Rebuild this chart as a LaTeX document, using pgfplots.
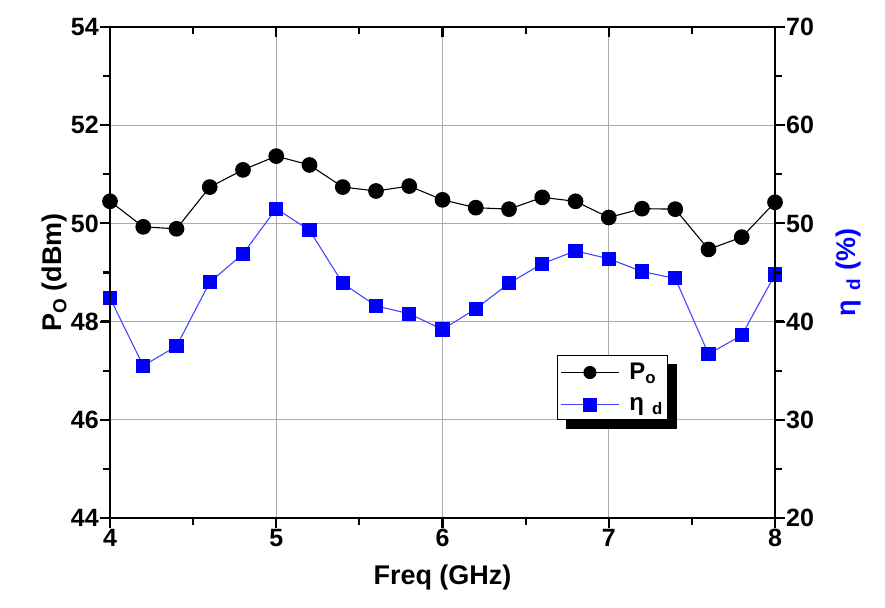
\documentclass[border=0pt]{standalone}
\usepackage{fontspec}
\setmainfont{Liberation Sans}
\usepackage{pgfplots}
\usepackage{pgfplotstable}
\pgfplotsset{compat=1.18}
\usetikzlibrary{calc}

\pgfplotstableread{
f po eta
4.0 50.45 42.4
4.2 49.93 35.5
4.4 49.89 37.5
4.6 50.74 44.0
4.8 51.09 46.9
5.0 51.37 51.5
5.2 51.19 49.3
5.4 50.74 43.9
5.6 50.66 41.6
5.8 50.76 40.8
6.0 50.48 39.2
6.2 50.32 41.3
6.4 50.29 43.9
6.6 50.53 45.9
6.8 50.45 47.2
7.0 50.12 46.4
7.2 50.30 45.1
7.4 50.29 44.4
7.6 49.47 36.7
7.8 49.72 38.6
8.0 50.43 44.8
}\datatable

\pgfplotsset{
  common/.style={
    scale only axis, width=665pt, height=491pt,
    at={(0pt,0pt)}, anchor=south west,
    xmin=4, xmax=8, xtick={4,5,6,7,8}, minor x tick num=1,
    tick label style={font=\fontsize{25}{28}\selectfont\bfseries, inner sep=2pt},
    /pgf/number format/assume math mode=true,
    label style={font=\fontsize{27}{30}\selectfont\bfseries},
  },
  lines/.style={
    axis line style={line width=2.8pt, black},
    major tick length=9pt, minor tick length=6pt,
    tick style={line width=2.2pt, black},
  }
}

\begin{document}
\begin{tikzpicture}
\path (-110pt,-89pt) rectangle (775pt,518pt);
\begin{axis}[common, name=main,
  axis x line*=bottom, axis y line*=left,
  ymin=44, ymax=54, ytick={44,46,48,50,52,54}, minor y tick num=1,
  grid=major, major grid style={gray!65, line width=0.9pt},
  xlabel={Freq (GHz)}, ylabel={P\textsubscript{O} (dBm)},
  xlabel style={yshift=-12pt}, ylabel style={yshift=-2pt},
  clip=false, lines, tick align=outside]
\addplot[black, line width=1.1pt, mark=*, mark size=7.3pt, mark options={solid, fill=black}]
  table[x=f, y=po]{\datatable};
\end{axis}
\begin{axis}[common,
  axis x line=none, axis y line*=right,
  ymin=20, ymax=70, ytick={20,30,40,50,60,70}, minor y tick num=1,
  ylabel={\textcolor{blue}{η\,\,\textsubscript{d} (\%)}},
  ylabel style={yshift=-16pt},
  clip=false, lines, tick align=outside,
  legend style={at={(0.672,0.332)}, anchor=north west, name=leg,
    draw=black, line width=1pt, fill=white,
    font=\fontsize{24}{26}\selectfont\bfseries,
    inner xsep=3pt, inner ysep=6pt, row sep=12pt,
    /tikz/every odd column/.append style={column sep=8pt}},
  legend cell align=left,
  legend image code/.code={
    \draw[#1, mark=none] (0pt,0pt) -- (58pt,0pt);
    \draw[#1, draw=none] plot coordinates {(29pt,0pt)};
  },
  ]
\addlegendimage{black, line width=1.1pt, mark=*, mark size=6pt, mark options={solid, fill=black}}
\addlegendentry{P\textsubscript{o}}
\addplot[draw={rgb,255:red,70;green,70;blue,255}, line width=1.1pt, mark=square*, mark size=6.5pt, mark options={solid, fill=blue, draw=blue}]
  table[x=f, y=eta]{\datatable};
\addlegendentry{η\,\,\textsubscript{d}}
\end{axis}
% legend shadow
\fill[black] ([yshift=-9pt]leg.north east) rectangle ([xshift=9pt,yshift=-9pt]leg.south east);
\fill[black] ([xshift=9pt]leg.south west) rectangle ([xshift=9pt,yshift=-9pt]leg.south east);
% frame as filled strips
\fill[black] ([xshift=-1.4pt,yshift=-1.4pt]main.south west) rectangle ([xshift=1.4pt,yshift=1.4pt]main.north west);
\fill[black] ([xshift=-1.4pt,yshift=-1.4pt]main.south east) rectangle ([xshift=1.4pt,yshift=1.4pt]main.north east);
\fill[black] ([xshift=-1.4pt,yshift=-1.4pt]main.south west) rectangle ([xshift=1.4pt,yshift=1.4pt]main.south east);
\fill[black] ([xshift=-1.4pt,yshift=-1.4pt]main.north west) rectangle ([xshift=1.4pt,yshift=1.4pt]main.north east);
% tick marks as filled strips
\foreach \f in {0,0.25,0.5,0.75,1} {
  \coordinate (B) at ($(main.south west)!\f!(main.south east)$);
  \coordinate (T) at ($(main.north west)!\f!(main.north east)$);
  \fill[black] ([xshift=-1.1pt]B) rectangle ([xshift=1.1pt,yshift=-10pt]B);
  \fill[black] ([xshift=-1.1pt]T) rectangle ([xshift=1.1pt,yshift=-10pt]T);
}
\foreach \f in {0.125,0.375,0.625,0.875} {
  \coordinate (B) at ($(main.south west)!\f!(main.south east)$);
  \coordinate (T) at ($(main.north west)!\f!(main.north east)$);
  \fill[black] ([xshift=-1.1pt]B) rectangle ([xshift=1.1pt,yshift=-7pt]B);
  \fill[black] ([xshift=-1.1pt]T) rectangle ([xshift=1.1pt,yshift=-7pt]T);
}
\foreach \f in {0,0.2,0.4,0.6,0.8,1} {
  \coordinate (L) at ($(main.south west)!\f!(main.north west)$);
  \coordinate (R) at ($(main.south east)!\f!(main.north east)$);
  \fill[black] ([yshift=-1.1pt]L) rectangle ([xshift=-10pt,yshift=1.1pt]L);
  \fill[black] ([yshift=-1.1pt]R) rectangle ([xshift=10pt,yshift=1.1pt]R);
}
\foreach \f in {0.1,0.3,0.5,0.7,0.9} {
  \coordinate (L) at ($(main.south west)!\f!(main.north west)$);
  \coordinate (R) at ($(main.south east)!\f!(main.north east)$);
  \fill[black] ([yshift=-1.1pt]L) rectangle ([xshift=-7pt,yshift=1.1pt]L);
  \fill[black] ([yshift=-1.1pt]R) rectangle ([xshift=7pt,yshift=1.1pt]R);
}
\end{tikzpicture}
\end{document}
